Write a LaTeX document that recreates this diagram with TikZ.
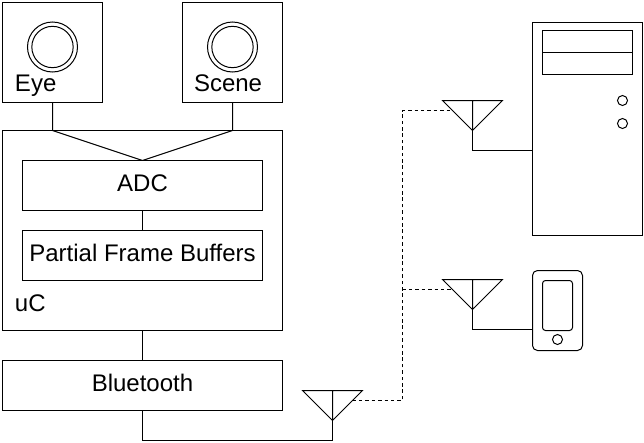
\documentclass[tikz,border=0pt]{standalone}
\usepackage{fontspec}
\setmainfont{Liberation Sans}

\tikzset{every picture/.style={line width=0.75pt}}
\tikzset{
	blockbox/.style={draw,rectangle,inner sep=0pt,outer sep=0pt},
	lensring/.style={draw,circle,inner sep=0pt,outer sep=0pt},
	labeltext/.style={inner sep=0.75pt,font=\fontsize{18}{22}\selectfont},
	radiolink/.style={dash pattern={on 2.6pt off 2.2pt}}
}

\begin{document}
\begin{tikzpicture}[x=0.75pt,y=0.75pt,yscale=-1,xscale=1]
	\useasboundingbox (0,0) rectangle (644,443);

	% Camera boxes
	\node [blockbox,minimum width=75pt,minimum height=75pt] (eye) at (52.5,52.5) {};
	\node [blockbox,minimum width=75pt,minimum height=75pt] (scene) at (232.5,52.5) {};
	\node [lensring,minimum size=37.5pt] (eyeouter) at (52.5,47) {};
	\node [lensring,minimum size=31pt] (eyeinner) at (52.5,47) {};
	\node [lensring,minimum size=37.5pt] (sceneouter) at (232.5,47) {};
	\node [lensring,minimum size=31pt] (sceneinner) at (232.5,47) {};

	% Microcontroller
	\node [blockbox,minimum width=210pt,minimum height=150pt] (uc) at (142.5,230.5) {};
	\node [blockbox,minimum width=180pt,minimum height=37.5pt] (adc) at (142.5,185.5) {};
	\node [blockbox,minimum width=180pt,minimum height=37.5pt] (buffers) at (142.5,255.5) {};
	\node [blockbox,minimum width=210pt,minimum height=37.5pt] (bluetooth) at (142.5,385.5) {};

	% Computer
	\node [blockbox,minimum width=82.5pt,minimum height=159.75pt] (tower) at (587.5,129) {};
	\node [blockbox,minimum width=67.5pt,minimum height=16.5pt] (drivetop) at (587.5,41.5) {};
	\node [blockbox,minimum width=67.5pt,minimum height=16.5pt] (drivelow) at (587.5,63.5) {};
	\node [lensring,minimum size=7.5pt] (ledtop) at (622.5,100.5) {};
	\node [lensring,minimum size=7.5pt] (ledlow) at (622.5,123.5) {};

	% Phone
	\node [blockbox,rounded corners=3.75pt,minimum width=37.5pt,minimum height=60pt] (phone) at (557.5,310.5) {};
	\node [blockbox,rounded corners=2.25pt,minimum width=22.5pt,minimum height=37.5pt] (screen) at (557.5,305.5) {};
	\node [lensring,minimum size=7.5pt] (homekey) at (557.5,339.5) {};

	% Antennas
	\coordinate (antpcleft) at (442.5,100.5);
	\coordinate (antpcright) at (502.5,100.5);
	\coordinate (antpctop) at (472.5,100.5);
	\coordinate (antpctip) at (472.5,130.5);
	\coordinate (antpclink) at (452.5,110.5);
	\coordinate (antphleft) at (442.5,279.5);
	\coordinate (antphright) at (502.5,279.5);
	\coordinate (antphtop) at (472.5,279.5);
	\coordinate (antphtip) at (472.5,309.5);
	\coordinate (antphlink) at (452.5,289.5);
	\coordinate (antbtleft) at (302.5,390.5);
	\coordinate (antbtright) at (362.5,390.5);
	\coordinate (antbttop) at (332.5,390.5);
	\coordinate (antbttip) at (332.5,420.5);
	\coordinate (antbtlink) at (352.5,400.5);
	\draw (antpcleft) -- (antpcright) -- (antpctip) -- cycle (antpctop) -- (antpctip);
	\draw (antphleft) -- (antphright) -- (antphtip) -- cycle (antphtop) -- (antphtip);
	\draw (antbtleft) -- (antbtright) -- (antbttip) -- cycle (antbttop) -- (antbttip);

	% Wires
	\draw (eye.south) -- (eye.south |- uc.north) -- (adc.north);
	\draw (scene.south) -- (scene.south |- uc.north) -- (adc.north);
	\draw (adc.south) -- (buffers.north);
	\draw (uc.south) -- (bluetooth.north);
	\coordinate (btcorner) at (142.5,440.5);
	\draw (bluetooth.south) -- (btcorner) -| (antbttip);
	\draw (antpctip) |- (tower.west |- 0,150.5);
	\draw (antphtip) |- (phone.west |- 0,329.5);

	% Radio links
	\coordinate (linkcorner) at (402.5,400.5);
	\coordinate (linkbranch) at (402.5,289.5);
	\draw [radiolink] (antbtlink) -- (linkcorner) |- (antpclink);
	\draw [radiolink] (linkbranch) -- (antphlink);

	% Text Node
	\node [labeltext,anchor=base west] (eyetext) at (13.5,91.5) {Eye};
	% Text Node
	\node [labeltext,anchor=base west] (scenetext) at (192.5,91.5) {Scene};
	% Text Node
	\node [labeltext,anchor=base] (adctext) at (142.5,191.5) {ADC};
	% Text Node
	\node [labeltext,anchor=base] (bufferstext) at (142.5,261.5) {Partial Frame Buffers};
	% Text Node
	\node [labeltext,anchor=base west] (uctext) at (13.5,311.5) {uC};
	% Text Node
	\node [labeltext,anchor=base] (bluetoothtext) at (142.5,391.5) {Bluetooth};

\end{tikzpicture}
\end{document}
